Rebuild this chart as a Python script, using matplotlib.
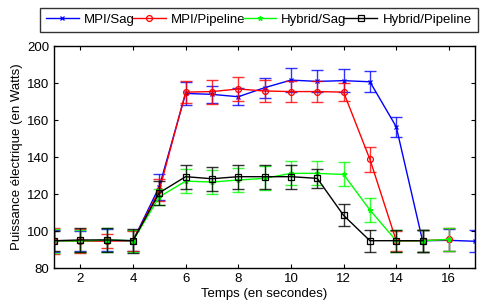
import matplotlib
matplotlib.use("Agg")
import matplotlib.pyplot as plt
import numpy as np

plt.rcParams['font.family'] = ['Liberation Sans', 'DejaVu Sans']

x_mpi_sag = [1, 2, 3, 4, 5, 6, 7, 8, 9, 10, 11, 12, 13, 14, 15, 16, 17]
y_mpi_sag = [94.8, 94.6, 95.0, 94.8, 124.0, 174.4, 173.9, 172.6, 177.5, 181.6, 180.9, 181.3, 180.7, 156.4, 94.8, 95.0, 94.5]
e_mpi_sag = [6.0, 5.5, 6.0, 5.8, 7.0, 6.0, 4.5, 4.5, 5.5, 6.5, 6.0, 6.2, 5.7, 5.5, 6.0, 6.0, 6.0]

x_mpi_pipe = [1, 2, 3, 4, 5, 6, 7, 8, 9, 10, 11, 12, 13, 14, 15, 16]
y_mpi_pipe = [94.8, 94.6, 94.6, 94.8, 122.0, 175.1, 175.4, 176.8, 175.7, 175.4, 175.4, 175.1, 138.8, 94.8, 94.8, 95.5]
e_mpi_pipe = [7.0, 6.5, 4.0, 5.5, 6.0, 6.0, 6.5, 6.5, 6.0, 5.5, 5.5, 5.0, 6.7, 5.5, 6.0, 6.0]

x_hyb_sag = [1, 2, 3, 4, 5, 6, 7, 8, 9, 10, 11, 12, 13, 14, 15, 16]
y_hyb_sag = [94.8, 94.6, 95.2, 94.8, 118.5, 127.0, 126.5, 127.6, 128.5, 131.2, 131.2, 130.6, 111.4, 94.8, 94.8, 95.5]
e_hyb_sag = [6.5, 6.0, 6.5, 6.0, 4.5, 6.5, 6.5, 6.5, 6.5, 6.5, 6.5, 6.5, 6.5, 6.0, 6.0, 6.0]

x_hyb_pipe = [1, 2, 3, 4, 5, 6, 7, 8, 9, 10, 11, 12, 13, 14, 15]
y_hyb_pipe = [94.8, 95.2, 95.2, 94.8, 120.7, 129.4, 128.3, 129.4, 129.4, 129.4, 128.5, 108.5, 94.8, 94.8, 94.8]
e_hyb_pipe = [5.5, 6.5, 6.5, 6.5, 6.5, 6.5, 6.5, 6.5, 6.5, 6.5, 5.0, 6.0, 6.0, 6.0, 6.0]

series = [
    ("MPI/Sag", x_mpi_sag, y_mpi_sag, e_mpi_sag, '#0000ff', 'x', 'none', 3),
    ("MPI/Pipeline", x_mpi_pipe, y_mpi_pipe, e_mpi_pipe, '#ff0000', 'o', 'none', 4.2),
    ("Hybrid/Sag", x_hyb_sag, y_hyb_sag, e_hyb_sag, '#00ff00', '*', '#00ff00', 3.5),
    ("Hybrid/Pipeline", x_hyb_pipe, y_hyb_pipe, e_hyb_pipe, '#000000', 's', 'none', 4),
]

fig = plt.figure(figsize=(4.8, 3.05), dpi=100)
ax = fig.add_axes([0.1125, 0.121, 0.8775, 0.728])

handles = []
for name, xs, ys, es, c, m, fc, ms in series:
    ax.errorbar(xs, ys, yerr=es, fmt='none', ecolor=c, elinewidth=1.0, capsize=4, capthick=1.0, alpha=0.8)
    h, = ax.plot(xs, ys, color=c, marker=m, markerfacecolor=fc, markeredgecolor=c,
                 markersize=ms, linewidth=1.0, markeredgewidth=0.9, label=name)
    handles.append(h)

ax.set_xlim(1, 17)
ax.set_ylim(80, 200)
ax.set_xticks(np.arange(2, 17, 2))
ax.set_yticks(np.arange(80, 201, 20))
ax.tick_params(direction='in', top=True, right=True, labelsize=9.5, length=3)
for s in ax.spines.values():
    s.set_linewidth(1.0)
ax.set_xlabel("Temps (en secondes)", fontsize=9.5, labelpad=2)
ax.set_ylabel("Puissance électrique (en Watts)", fontsize=9.5, labelpad=3)

leg = fig.legend(handles=handles, loc='upper left', bbox_to_anchor=(0.083, 0.975, 0.912, 0.0),
                 mode='expand', ncol=4, fontsize=9.5, frameon=True, fancybox=False,
                 edgecolor='black', borderpad=0.45, handlelength=2.5, handletextpad=0.4,
                 columnspacing=0.6, borderaxespad=0)
leg.get_frame().set_linewidth(1.0)

fig.savefig("out.png", dpi=100)
